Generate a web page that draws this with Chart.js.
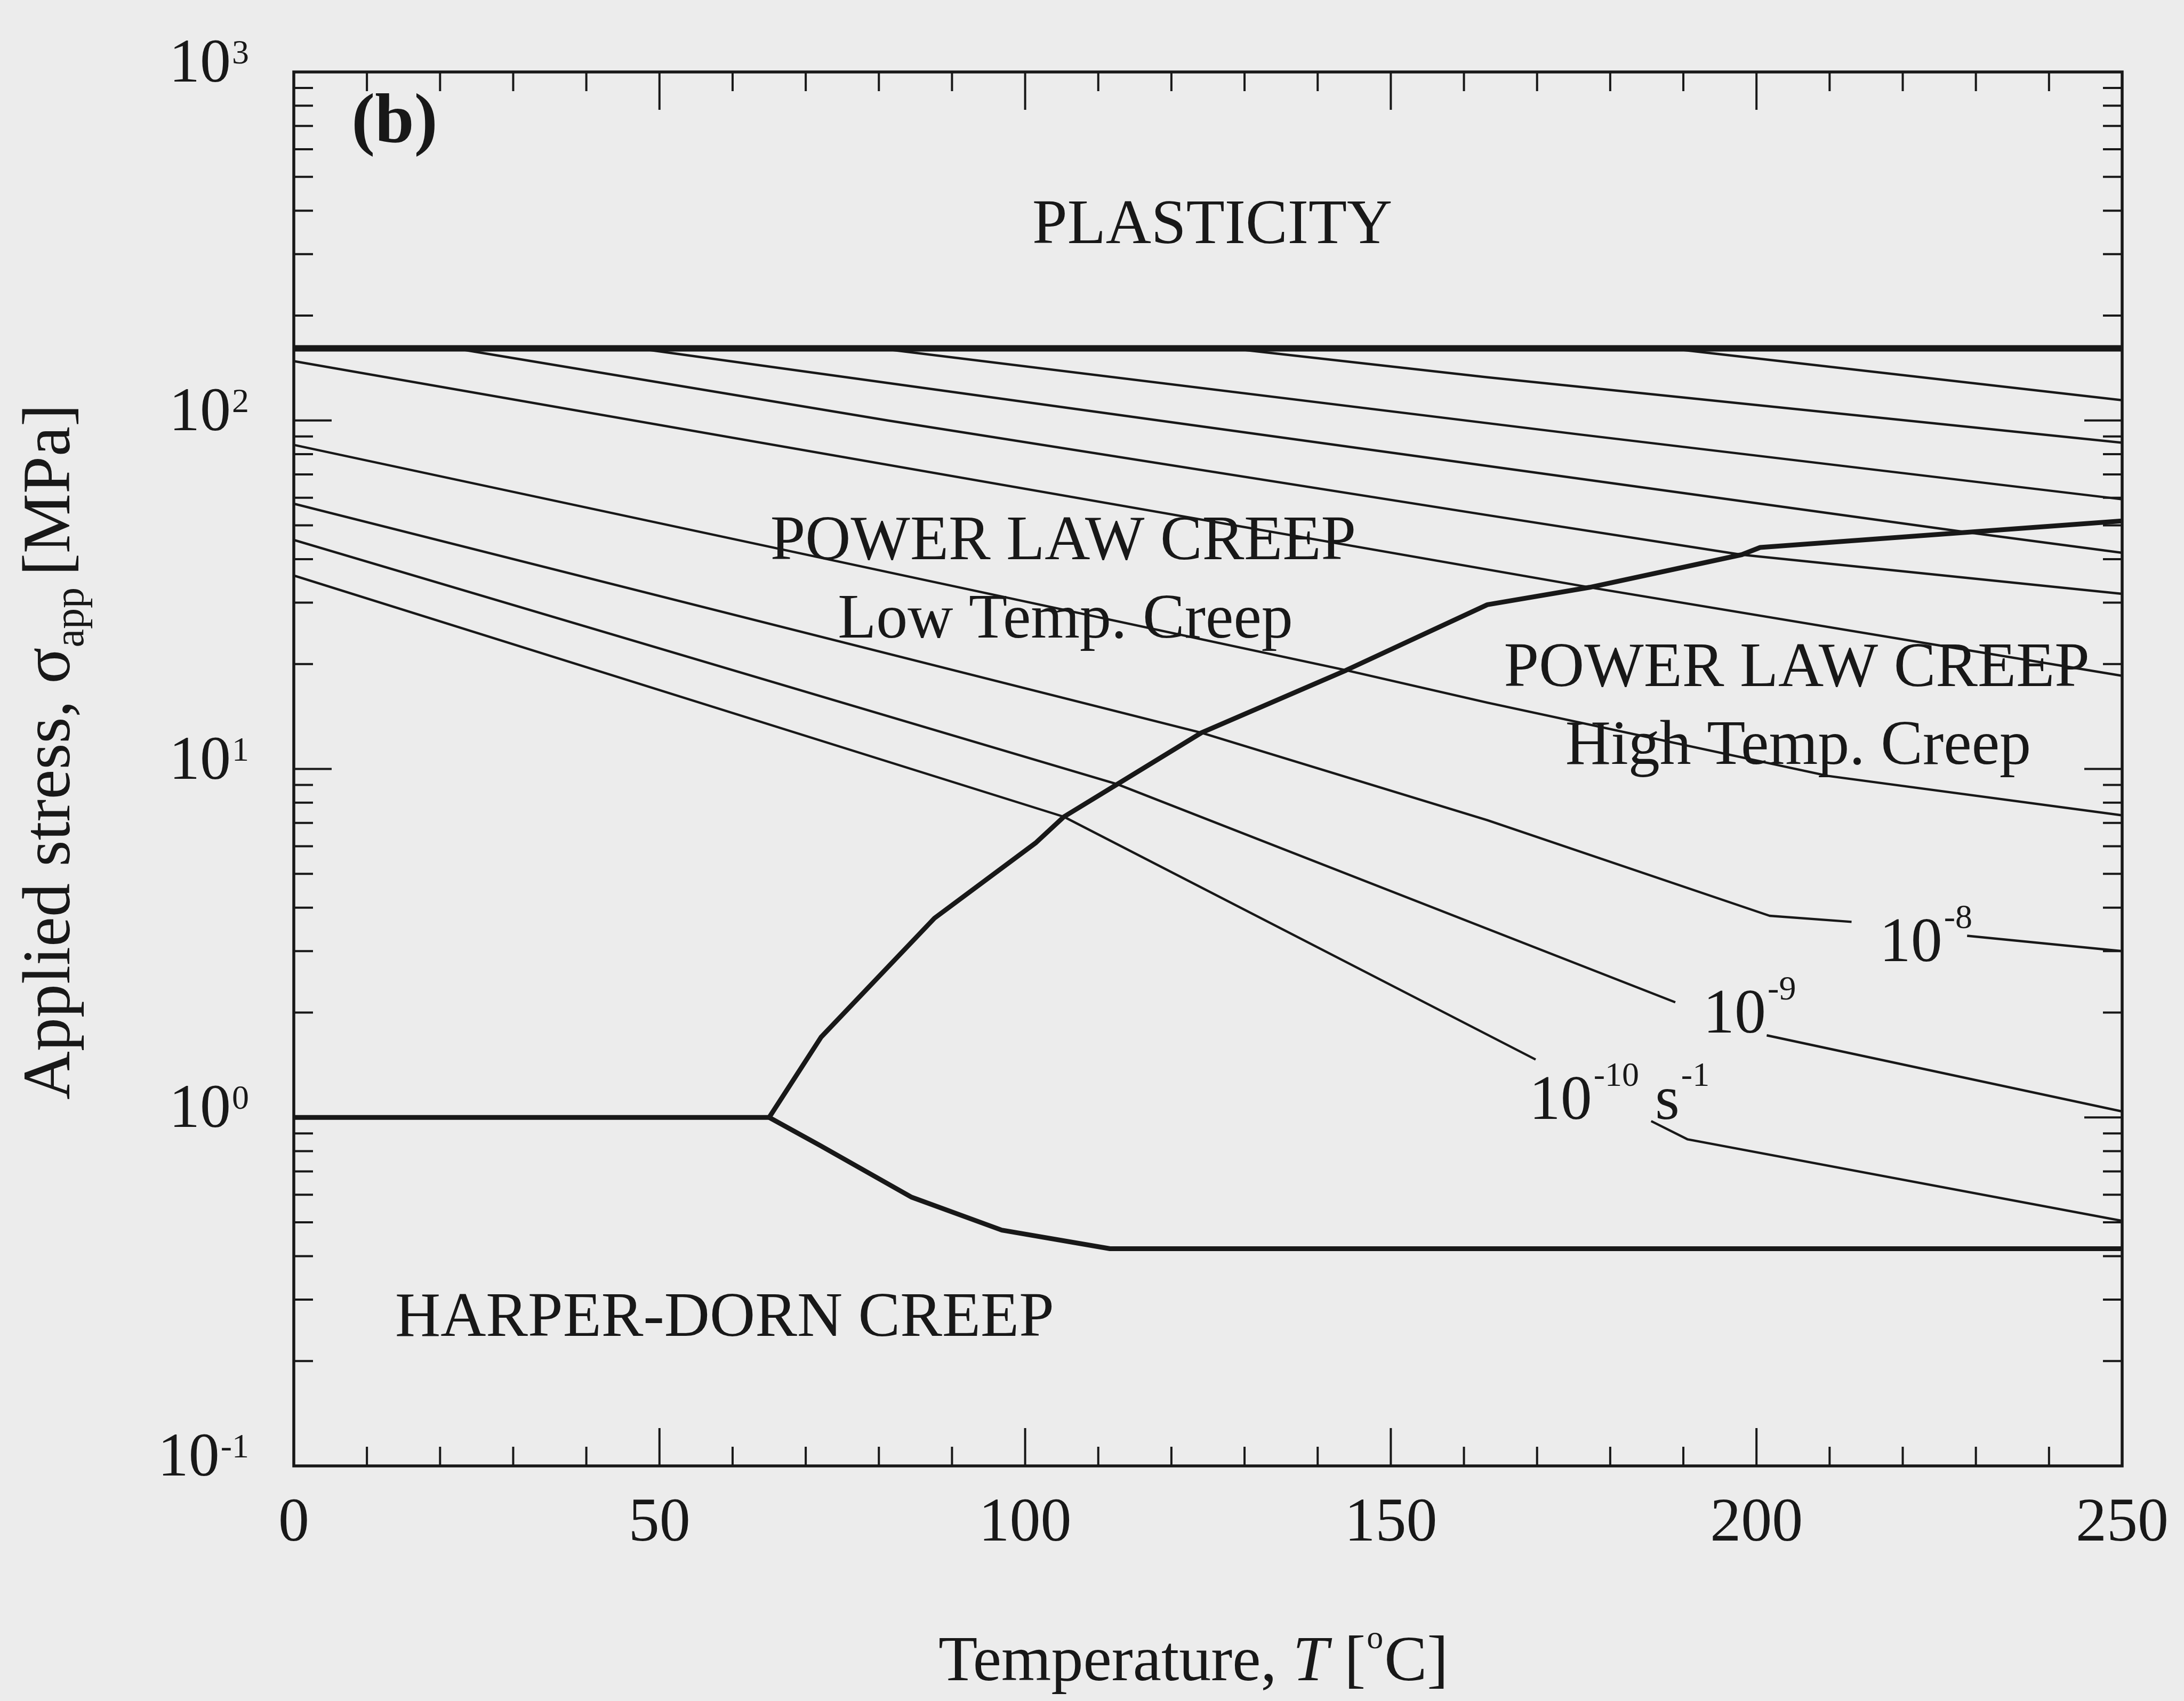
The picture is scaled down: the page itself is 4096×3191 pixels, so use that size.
<!DOCTYPE html>
<html>
<head>
<meta charset="utf-8">
<title>Deformation mechanism map</title>
<style>
  html, body { margin: 0; padding: 0; background: #ececec; }
  canvas { display: block; }
</style>
<script src="https://cdn.jsdelivr.net/npm/chart.js@4.4.1/dist/chart.umd.min.js"></script>
</head>
<body>
<canvas id="map" width="4096" height="3191"></canvas>
<script>
// ---------------- axis ticks ----------------
const tempMajorTicks = [0, 50, 100, 150, 200, 250];
const stressMajorTicks = [0.1, 1, 10, 100, 1000];
const stressTickExponents = ['-1', '0', '1', '2', '3'];

// ---------------- field boundaries (T in degC, stress in MPa) ----------------
const plasticityT = [0, 250];
const plasticityS = [161, 161];

const harperUpperT = [0, 65];
const harperUpperS = [1.0, 1.0];

const harperLowerT = [65, 72, 84.5, 96.8, 111.6, 250];
const harperLowerS = [1.0, 0.83, 0.59, 0.475, 0.42, 0.42];

const lowHighT = [65, 72.1, 87.6, 101.5, 105.3, 112.6, 124.1, 143.9, 163.2, 177.2, 198, 200.5, 250];
const lowHighS = [1.0, 1.70, 3.73, 6.15, 7.29, 9.04, 12.7, 19.2, 29.6, 33.2, 41.2, 43.2, 51.5];

// ---------------- constant strain-rate contours (null = label break) ----------------
const rate1T = [188, 250];
const rate1S = [161, 114.3];
const rate2T = [128, 163.2, 250];
const rate2S = [161, 133, 86.3];
const rate3T = [80, 175.7, 250];
const rate3S = [161, 91.2, 59.4];
const rate4T = [47, 227.7, 250];
const rate4S = [161, 48.1, 41.7];
const rate5T = [22, 81.2, 163.2, 197.9, 250];
const rate5S = [161, 100, 53.5, 41.2, 31.8];
const rate6T = [0, 177.2, 250];
const rate6S = [148, 33.2, 18.5];
const rate7T = [0, 143.9, 163.2, 209.8, 250];
const rate7S = [85.1, 19.2, 15.5, 9.55, 7.36];
const rate8T = [0, 124.1, 163.2, 201.8, 213, 220, 228.8, 250];
const rate8S = [57.7, 12.7, 7.13, 3.79, 3.64, null, 3.32, 3.0];
const rate9T = [0, 112.6, 188.9, 195, 201.4, 250];
const rate9S = [45.4, 9.04, 2.14, null, 1.72, 1.04];
const rate10T = [0, 105.3, 169.8, 178, 185.6, 190.6, 250];
const rate10S = [35.9, 7.29, 1.466, null, 0.976, 0.865, 0.505];

// ---------------- text placed at data coordinates ----------------
const regionLabels = [
  { text: 'PLASTICITY',         t: 125.6, s: 323 },
  { text: 'POWER LAW CREEP',    t: 105.2, s: 40.0 },
  { text: 'Low Temp. Creep',    t: 105.5, s: 23.8 },
  { text: 'POWER LAW CREEP',    t: 205.5, s: 17.3 },
  { text: 'High Temp. Creep',   t: 205.7, s: 10.35 },
  { text: 'HARPER-DORN CREEP',  t: 58.9,  s: 0.236 }
];
const rateLabels = [
  { parts: [['10', '-8']],              t: 216.8, s: 2.81 },
  { parts: [['10', '-9']],              t: 192.7, s: 1.75 },
  { parts: [['10', '-10'], ['s', '-1']], t: 168.9, s: 0.991 }
];
const panelTag = { text: '(b)', t: 7.9, s: 631 };

// ---------------- drawing helpers ----------------
const SERIF = '"Liberation Serif", "Times New Roman", serif';
const INK = '#181818';

function fontOf(r) {
  return (r.bold ? 'bold ' : '') + (r.italic ? 'italic ' : '') + r.size + 'px ' + SERIF;
}
function runsWidth(ctx, runs) {
  let w = 0;
  for (const r of runs) { ctx.font = fontOf(r); w += ctx.measureText(r.text).width + (r.gap || 0); }
  return w;
}
function drawRuns(ctx, runs, x, y, align) {
  const w = runsWidth(ctx, runs);
  let cx = align === 'center' ? x - w / 2 : align === 'right' ? x - w : x;
  ctx.textAlign = 'left';
  ctx.textBaseline = 'alphabetic';
  for (const r of runs) {
    ctx.font = fontOf(r);
    ctx.fillText(r.text, cx, y - (r.dy || 0));
    cx += ctx.measureText(r.text).width + (r.gap || 0);
  }
}

const pts = (T, S) => T.map((t, i) => ({ x: t, y: S[i] }));
const thin = 4.4, heavy = 9;
const series = [
  [plasticityT, plasticityS, 12],
  [harperUpperT, harperUpperS, heavy],
  [harperLowerT, harperLowerS, heavy],
  [lowHighT, lowHighS, heavy],
  [rate1T, rate1S, thin], [rate2T, rate2S, thin], [rate3T, rate3S, thin],
  [rate4T, rate4S, thin], [rate5T, rate5S, thin], [rate6T, rate6S, thin],
  [rate7T, rate7S, thin], [rate8T, rate8S, thin], [rate9T, rate9S, thin],
  [rate10T, rate10S, thin]
];

const mapDecorations = {
  id: 'mapDecorations',
  afterDraw(chart) {
    const { ctx, chartArea: a, scales: { x, y } } = chart;
    ctx.save();
    ctx.strokeStyle = INK;
    ctx.fillStyle = INK;

    // frame
    ctx.lineWidth = 5.5;
    ctx.strokeRect(a.left, a.top, a.right - a.left, a.bottom - a.top);

    // inward tick marks on all four sides
    const major = 71, minor = 36;
    ctx.lineWidth = 4;
    ctx.beginPath();
    for (let t = x.min; t <= x.max + 1e-9; t += 10) {
      const px = x.getPixelForValue(t);
      const len = tempMajorTicks.includes(t) ? major : minor;
      ctx.moveTo(px, a.bottom); ctx.lineTo(px, a.bottom - len);
      ctx.moveTo(px, a.top); ctx.lineTo(px, a.top + len);
    }
    for (let d = 0; d < stressMajorTicks.length; d++) {
      const dec = stressMajorTicks[d];
      const list = [[dec, major]];
      if (d < stressMajorTicks.length - 1) for (let k = 2; k <= 9; k++) list.push([dec * k, minor]);
      for (const [v, len] of list) {
        const py = y.getPixelForValue(v);
        ctx.moveTo(a.left, py); ctx.lineTo(a.left + len, py);
        ctx.moveTo(a.right, py); ctx.lineTo(a.right - len, py);
      }
    }
    ctx.stroke();

    // tick labels
    tempMajorTicks.forEach(t => {
      drawRuns(ctx, [{ text: String(t), size: 116 }], x.getPixelForValue(t), a.bottom + 140, 'center');
    });
    stressMajorTicks.forEach((v, i) => {
      drawRuns(ctx, [{ text: '10', size: 116, gap: 2 }, { text: stressTickExponents[i], size: 64, dy: 34 }],
        a.left - 84, y.getPixelForValue(v) + 18, 'right');
    });

    // axis titles
    drawRuns(ctx, [
      { text: 'Temperature, ', size: 120 },
      { text: 'T', size: 120, italic: true, gap: 30 },
      { text: '[', size: 120, gap: 2 },
      { text: 'o', size: 62, dy: 60, gap: 2 },
      { text: 'C]', size: 120 }
    ], x.getPixelForValue(123), 3152, 'center');

    ctx.save();
    ctx.translate(130, (a.top + a.bottom) / 2 - 32);
    ctx.rotate(-Math.PI / 2);
    drawRuns(ctx, [
      { text: 'Applied stress, \u03C3', size: 126 },
      { text: 'app', size: 78, dy: -26, gap: 22 },
      { text: '[MPa]', size: 126 }
    ], 0, 0, 'center');
    ctx.restore();

    // region names
    regionLabels.forEach(l => {
      drawRuns(ctx, [{ text: l.text, size: 118 }], x.getPixelForValue(l.t), y.getPixelForValue(l.s), 'center');
    });

    // strain-rate labels
    rateLabels.forEach(l => {
      const runs = [];
      l.parts.forEach(([base, exp], i) => {
        runs.push({ text: base, size: 118, gap: 3 });
        runs.push({ text: exp, size: 64, dy: 62, gap: i < l.parts.length - 1 ? 30 : 0 });
      });
      drawRuns(ctx, runs, x.getPixelForValue(l.t), y.getPixelForValue(l.s), 'left');
    });

    // panel tag
    drawRuns(ctx, [{ text: panelTag.text, size: 132, bold: true }],
      x.getPixelForValue(panelTag.t), y.getPixelForValue(panelTag.s), 'left');

    ctx.restore();
  }
};

new Chart(document.getElementById('map'), {
  type: 'line',
  data: {
    datasets: series.map(([T, S, w]) => ({
      data: pts(T, S),
      borderColor: INK,
      borderWidth: w,
      pointRadius: 0,
      tension: 0,
      fill: false,
      spanGaps: false,
      borderJoinStyle: 'round',
      borderCapStyle: 'butt'
    }))
  },
  options: {
    responsive: false,
    animation: false,
    devicePixelRatio: 1,
    layout: { padding: { left: 543, right: 116, top: 135, bottom: 433 } },
    plugins: { legend: { display: false }, tooltip: { enabled: false } },
    scales: {
      x: { type: 'linear', min: 0, max: 250,
           ticks: { display: false, stepSize: 10 },
           grid: { display: false }, border: { display: false } },
      y: { type: 'logarithmic', min: 0.1, max: 1000,
           ticks: { display: false },
           grid: { display: false }, border: { display: false } }
    }
  },
  plugins: [mapDecorations]
});
</script>
</body>
</html>
